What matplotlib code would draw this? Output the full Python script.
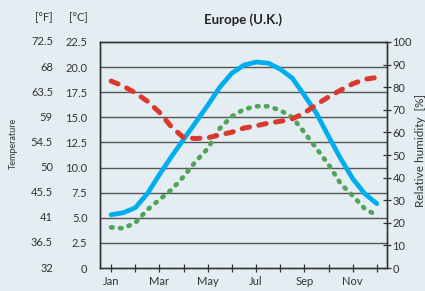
import matplotlib
matplotlib.use("Agg")
import matplotlib.pyplot as plt

# ---------------------------------------------------------------------------
# Data (month index 0 = Jan, half-month steps)
# ---------------------------------------------------------------------------
month_labels = ["Jan", "", "Mar", "", "May", "", "Jul", "", "Sep", "", "Nov", ""]

t_max_x = [0, 0.5, 1, 1.5, 2, 2.5, 3, 3.5, 4, 4.5, 5, 5.5, 6, 6.5, 7, 7.5,
           8, 8.5, 9, 9.5, 10, 10.5, 11]
t_max = [5.3, 5.5, 6.0, 7.4, 9.3, 11.1, 12.8, 14.5, 16.2, 18.0, 19.4, 20.2,
         20.5, 20.4, 19.8, 18.9, 17.2, 15.4, 13.1, 10.9, 8.9, 7.4, 6.4]

t_min_x = [0, 0.5, 1, 1.5, 2, 2.5, 3, 3.5, 4, 4.5, 5, 5.5, 6, 6.5, 7, 7.5,
           8, 8.5, 9, 9.5, 10, 10.5, 10.8]
t_min = [4.05, 3.95, 4.5, 5.8, 6.8, 7.8, 9.1, 10.6, 11.9, 13.9, 15.1, 15.8,
         16.1, 16.1, 15.7, 15.0, 13.5, 11.9, 10.3, 8.4, 7.2, 5.9, 5.5]

rh_x = [0, 0.5, 1, 1.5, 2, 2.5, 3, 3.5, 4, 4.5, 5, 5.5, 6, 6.5, 7, 7.5,
        8, 8.5, 9, 9.5, 10, 10.5, 10.93]
rh = [82.7, 80.5, 77.5, 73.8, 68.9, 62.4, 57.7, 57.3, 57.6, 58.9, 60.1, 61.9,
      62.9, 64.1, 64.9, 66.0, 68.6, 72.3, 75.7, 78.7, 81.5, 83.5, 84.2]

c_ticks = [0, 2.5, 5.0, 7.5, 10.0, 12.5, 15.0, 17.5, 20.0, 22.5]
c_labels = ["0", "2.5", "5.0", "7.5", "10.0", "12.5", "15.0", "17.5", "20.0", "22.5"]
f_labels = ["32", "36.5", "41", "45.5", "50", "54.5", "59", "63.5", "68", "72.5"]
rh_ticks = [0, 10, 20, 30, 40, 50, 60, 70, 80, 90, 100]

BG = "#e4edf1"
BLUE = "#00aeef"
GREEN = "#4fa458"
RED = "#d9392e"
INK = "#333333"
GRID = "#555555"

plt.rcParams["font.family"] = ["Lato", "DejaVu Sans"]

fig = plt.figure(figsize=(4.25, 2.91), dpi=100, facecolor=BG)
ax = fig.add_axes([0.2353, 0.079, 0.6753, 0.7767], facecolor=BG)
ax2 = ax.twinx()

# --- gridlines at the temperature levels ---
for c in c_ticks[1:-1]:
    ax.axhline(c, color=GRID, lw=1.0, zorder=1)

# --- temperature curves (left axis) ---
ax.plot(t_max_x, t_max, color=BLUE, lw=3.4, solid_capstyle="round",
        solid_joinstyle="round", zorder=3)
ax.plot(t_min_x, t_min, color=GREEN, lw=3.4, linestyle=(0, (0.3, 1.6)),
        dash_capstyle="round", dash_joinstyle="round", zorder=3)

# --- humidity (right axis) ---
ax2.plot(rh_x, rh, color=RED, lw=3.6, linestyle=(0, (1.5, 1.9)),
         dash_capstyle="round", dash_joinstyle="round", zorder=3)

ax.set_xlim(-0.46, 11.42)
ax.set_ylim(0, 22.5)
ax2.set_ylim(0, 100)

ax.set_xticks(range(12))
ax.set_xticklabels(month_labels, fontsize=8, color=INK)
ax.tick_params(axis="x", direction="inout", length=6, width=0.9, pad=3, color=INK)

ax.set_yticks(c_ticks)
ax.set_yticklabels(c_labels, fontsize=8, color=INK)
ax.tick_params(axis="y", length=0, pad=9)

ax2.set_yticks(rh_ticks)
ax2.set_yticklabels([str(v) for v in rh_ticks], fontsize=8, color=INK)
ax2.tick_params(axis="y", direction="inout", length=6, width=0.9, pad=1, color=INK)

for a in (ax, ax2):
    for sp in a.spines.values():
        sp.set_color(INK)
        sp.set_linewidth(1.0)

# Fahrenheit column
for c, lab in zip(c_ticks, f_labels):
    ax.text(-0.164, c, lab, transform=ax.get_yaxis_transform(), ha="right",
            va="center", fontsize=8, color=INK)

fig.text(53 / 425, 1 - 18 / 291, "[°F]", ha="right", va="center", fontsize=8, color=INK)
fig.text(88 / 425, 1 - 18 / 291, "[°C]", ha="right", va="center", fontsize=8, color=INK)
fig.text(243 / 425, 1 - 20 / 291, "Europe (U.K.)", ha="center", va="center",
         fontsize=9.5, fontweight="bold", color="#222222")
fig.text(13 / 425, 1 - 143 / 291, "Temperature", rotation=90, ha="center",
         va="center", fontsize=6.5, color=INK)
fig.text(421 / 425, 1 - 150 / 291, "Relative humidity  [%]", rotation=90,
         ha="center", va="center", fontsize=8.5, color=INK)

fig.savefig("out.png", dpi=100, facecolor=BG)
